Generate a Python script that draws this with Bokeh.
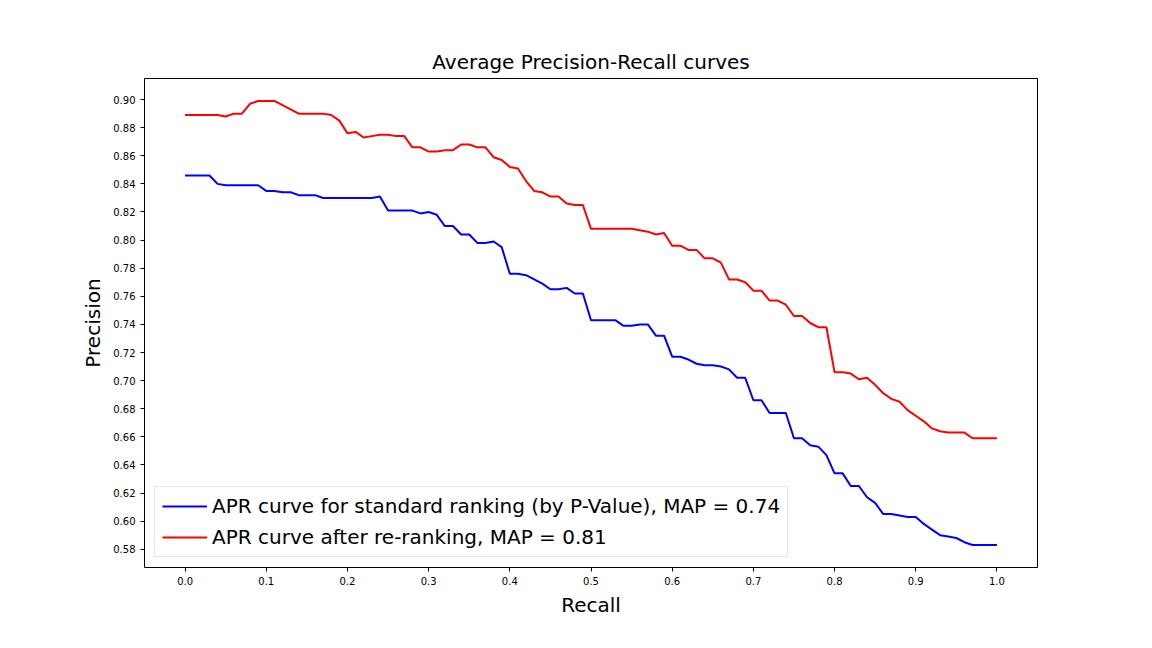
from bokeh.plotting import figure
from bokeh.models import Range1d, FixedTicker, Legend, LegendItem
from bokeh.embed import file_html
from bokeh.resources import INLINE

recall = [i / 100 for i in range(101)]

precision_standard = [
    0.846, 0.846, 0.846, 0.846, 0.840, 0.839, 0.839, 0.839, 0.839, 0.839,
    0.835, 0.835, 0.834, 0.834, 0.832, 0.832, 0.832, 0.830, 0.830, 0.830,
    0.830, 0.830, 0.830, 0.830, 0.831, 0.821, 0.821, 0.821, 0.821, 0.819,
    0.820, 0.818, 0.810, 0.810, 0.804, 0.804, 0.798, 0.798, 0.799, 0.795,
    0.776, 0.776, 0.775, 0.772, 0.769, 0.765, 0.765, 0.766, 0.762, 0.762,
    0.743, 0.743, 0.743, 0.743, 0.739, 0.739, 0.740, 0.740, 0.732, 0.732,
    0.717, 0.717, 0.715, 0.712, 0.711, 0.711, 0.710, 0.708, 0.702, 0.702,
    0.686, 0.686, 0.677, 0.677, 0.677, 0.659, 0.659, 0.654, 0.653, 0.647,
    0.634, 0.634, 0.625, 0.625, 0.617, 0.613, 0.605, 0.605, 0.604, 0.603,
    0.603, 0.598, 0.594, 0.590, 0.589, 0.588, 0.585, 0.583, 0.583, 0.583,
    0.583,
]

precision_reranked = [
    0.889, 0.889, 0.889, 0.889, 0.889, 0.888, 0.890, 0.890, 0.897, 0.899,
    0.899, 0.899, 0.896, 0.893, 0.890, 0.890, 0.890, 0.890, 0.889, 0.885,
    0.876, 0.877, 0.873, 0.874, 0.875, 0.875, 0.874, 0.874, 0.866, 0.866,
    0.863, 0.863, 0.864, 0.864, 0.868, 0.868, 0.866, 0.866, 0.859, 0.857,
    0.852, 0.851, 0.842, 0.835, 0.834, 0.831, 0.831, 0.826, 0.825, 0.825,
    0.808, 0.808, 0.808, 0.808, 0.808, 0.808, 0.807, 0.806, 0.804, 0.805,
    0.796, 0.796, 0.793, 0.793, 0.787, 0.787, 0.784, 0.772, 0.772, 0.770,
    0.764, 0.764, 0.757, 0.757, 0.754, 0.746, 0.746, 0.741, 0.738, 0.738,
    0.706, 0.706, 0.705, 0.701, 0.702, 0.697, 0.691, 0.687, 0.685, 0.679,
    0.675, 0.671, 0.666, 0.664, 0.663, 0.663, 0.663, 0.659, 0.659, 0.659,
    0.659,
]

x_ticks = [i / 10 for i in range(11)]
y_ticks = [0.58 + 0.02 * i for i in range(17)]

FONT = "DejaVu Sans"

p = figure(
    width=1136, height=632,
    output_backend="svg", toolbar_location=None,
    title="Average Precision-Recall curves",
    x_axis_label="Recall", y_axis_label="Precision",
)
p.x_range = Range1d(-0.05, 1.05)
p.y_range = Range1d(0.567, 0.915)
p.min_border_left = 144
p.min_border_right = 99
p.min_border_top = 78
p.min_border_bottom = 65

r1 = p.line(recall, precision_standard, line_color="blue", line_width=2)
r2 = p.line(recall, precision_reranked, line_color="red", line_width=2)

legend = Legend(items=[
    LegendItem(label="APR curve for standard ranking (by P-Value), MAP = 0.74", renderers=[r1]),
    LegendItem(label="APR curve after re-ranking, MAP = 0.81", renderers=[r2]),
], location="bottom_left")
legend.label_text_font = FONT
legend.label_text_font_size = "20px"
legend.label_text_color = "black"
legend.glyph_width = 45
legend.spacing = 7
legend.padding = 7
legend.margin = 10
legend.border_line_color = "#cccccc"
legend.border_line_width = 1
p.add_layout(legend)

p.xgrid.visible = False
p.ygrid.visible = False
p.outline_line_color = "black"
p.outline_line_width = 1

p.xaxis.ticker = FixedTicker(ticks=x_ticks)
p.yaxis.ticker = FixedTicker(ticks=y_ticks)
p.xaxis.major_label_overrides = {t: f"{t:.1f}" for t in x_ticks}
p.yaxis.major_label_overrides = {t: f"{t:.2f}" for t in y_ticks}
for ax in (p.xaxis, p.yaxis):
    ax.minor_tick_line_color = None
    ax.major_tick_in = 0
    ax.major_tick_out = 4
    ax.axis_line_color = None
    ax.major_label_text_font = FONT
    ax.major_label_text_font_size = "10px"
    ax.major_label_text_color = "black"
    ax.axis_label_text_font = FONT
    ax.axis_label_text_font_size = "20px"
    ax.axis_label_text_font_style = "normal"
    ax.axis_label_text_color = "black"

p.title.text_font = FONT
p.title.text_font_size = "20px"
p.title.text_font_style = "normal"
p.title.text_color = "black"
p.title.align = "center"

open("out.html", "w").write(file_html(p, INLINE))
